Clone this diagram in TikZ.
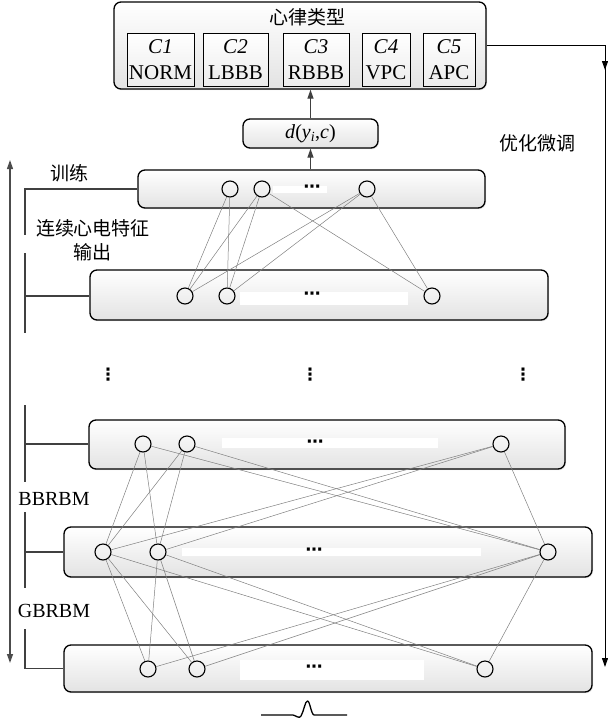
\documentclass[tikz,border=0pt]{standalone}
\usepackage{fontspec}
\setmainfont{Liberation Serif}
\newfontfamily\cjk{Noto Sans CJK SC}
\newfontfamily\sym{DejaVu Sans}
\usetikzlibrary{arrows.meta}
\usetikzlibrary{shadows}

\begin{document}
\begin{tikzpicture}[x=1pt, y=-1pt, font=\fontsize{20}{24}\selectfont,
    layer/.style={draw, line width=1.3pt, rounded corners=7pt, top color=white, bottom color=gray!22,
                  drop shadow={opacity=0.2, shadow xshift=1pt, shadow yshift=-1.2pt}, inner sep=0pt},
    cls/.style={draw, line width=0.8pt, top color=white, bottom color=gray!15, inner sep=0pt,
                minimum height=53pt, align=center, font=\fontsize{21}{26}\selectfont},
    unit/.style={draw, circle, line width=1.1pt, minimum size=16pt, inner sep=0pt},
    band/.style={fill=white, inner sep=0pt},
    dots/.style={inner sep=0pt, font=\sym\bfseries\fontsize{17}{17}\selectfont},
    link/.style={gray, line width=0.5pt},
    brack/.style={draw=black!75, line width=1.5pt},
    arr/.style={draw=black!75, line width=1.2pt, -{Triangle[length=9pt,width=6pt]}},
    cn/.style={font=\cjk\fontsize{19}{24}\selectfont}]
    \useasboundingbox (0,0) rectangle (608,724);

    % output: heartbeat classes
    \node[layer, minimum width=372pt, minimum height=87pt] (top) at (300,45.5) {};
    \node[cn] (ttl) at (307,17) {心律类型};
    \node[cls, minimum width=67pt] (norm) at (160.5,59.5) {\textit{C1}\\NORM};
    \node[cls, minimum width=65pt] (lbbb) at (235.5,59.5) {\textit{C2}\\LBBB};
    \node[cls, minimum width=66pt] (rbbb) at (316,59.5) {\textit{C3}\\RBBB};
    \node[cls, minimum width=48pt] (vpc) at (386,59.5) {\textit{C4}\\VPC};
    \node[cls, minimum width=52pt] (apc) at (449,59.5) {\textit{C5}\\APC};

    \node[layer, minimum width=135pt, minimum height=29pt] (dist) at (310.5,133.5)
        {\textit{d}(\textit{y}\textsubscript{\textit{i}},\textit{c})};

    % stacked layers
    \node[layer, minimum width=347pt, minimum height=38pt] (lay1) at (311.5,189) {};
    \node[layer, minimum width=458pt, minimum height=50pt] (lay2) at (319,295) {};
    \node[layer, minimum width=476pt, minimum height=49pt] (lay3) at (327,444.5) {};
    \node[layer, minimum width=528pt, minimum height=50pt] (lay4) at (328,552) {};
    \node[layer, minimum width=528pt, minimum height=47pt] (lay5) at (328,668.5) {};

    \node[band, minimum width=54pt, minimum height=7pt] (bd1) at (300,189.5) {};
    \node[band, minimum width=168pt, minimum height=13pt] (bd2) at (324,298.5) {};
    \node[band, minimum width=216pt, minimum height=10pt] (bd3) at (330,443) {};
    \node[band, minimum width=299pt, minimum height=8pt] (bd4) at (331.5,552) {};
    \node[band, minimum width=184pt, minimum height=20pt] (bd5) at (332,670) {};
    \node[dots] (dt1) at (312,189) {⋯};
    \node[dots] (dt2) at (312,296) {⋯};
    \node[dots] (dt3) at (315,444) {⋯};
    \node[dots] (dt4) at (314,552) {⋯};
    \node[dots] (dt5) at (314,669) {⋯};

    \node[dots] (vd1) at (108,375) {⋮};
    \node[dots] (vd2) at (310,375) {⋮};
    \node[dots] (vd3) at (523,375) {⋮};

    % units
    \node[unit] (u1a) at (230,189) {};
    \node[unit] (u1b) at (262,189) {};
    \node[unit] (u1c) at (367,189) {};
    \node[unit] (u2a) at (185,296) {};
    \node[unit] (u2b) at (227,296) {};
    \node[unit] (u2c) at (432,296) {};
    \node[unit] (u3a) at (143,444) {};
    \node[unit] (u3b) at (187,444) {};
    \node[unit] (u3c) at (501,444) {};
    \node[unit] (u4a) at (103,552) {};
    \node[unit] (u4b) at (158,552) {};
    \node[unit] (u4c) at (548,552) {};
    \node[unit] (u5a) at (148,669) {};
    \node[unit] (u5b) at (197,669) {};
    \node[unit] (u5c) at (485,669) {};

    \foreach \p/\q in {u1a/u2a, u1a/u2b, u1b/u2a, u1b/u2b, u1b/u2c, u1c/u2a, u1c/u2b, u1c/u2c}
        \draw[link] (\p) -- (\q);
    \foreach \p in {u3a,u3b,u3c}
        \foreach \q in {u4a,u4b,u4c}
            \draw[link] (\p) -- (\q);
    \foreach \p in {u4a,u4b,u4c}
        \foreach \q in {u5a,u5b,u5c}
            \draw[link] (\p) -- (\q);

    % arrows
    \draw[arr] (dist.south |- lay1.north) -- (dist.south);
    \draw[arr] (dist.north) -- (dist.north |- top.south);

    \coordinate (fr) at (605,45.5);
    \coordinate (fm) at (605,70);
    \coordinate (fe) at (605,667);
    \draw[arr, draw=black, line width=1pt] (top.east) -- (fr) -- (fe);
    \draw[arr, draw=black, line width=1pt] (fr) -- (fm);
    \node[cn] (tune) at (537,143) {优化微调};

    \coordinate (tu) at (10,160);
    \coordinate (td) at (10,663);
    \draw[draw=black!70, line width=1.2pt, {Triangle[length=9pt,width=6pt]}-{Triangle[length=9pt,width=6pt]}] (tu) -- (td);

    % brackets
    \draw[brack] (lay1.west) -- (25,189) -- (25,235);
    \draw[brack] (25,253) -- (25,333);
    \draw[brack] (25,296) -- (lay2.west |- 25,296);
    \draw[brack] (25,405) -- (25,482);
    \draw[brack] (25,444) -- (lay3.west |- 25,444);
    \draw[brack] (25,512) -- (25,588);
    \draw[brack] (25,552) -- (lay4.west);
    \draw[brack] (lay5.west) -- (25,668.5) -- (25,629);

    \node[cn] (train) at (69,173) {训练};
    \node[cn, align=center] (feat) at (93,240) {连续心电特征\\输出};
    \node (bb) at (54,499) {BBRBM};
    \node (gb) at (54,611) {GBRBM};

    % input beat
    \draw[line width=1.3pt, line join=round] (261,715) -- (293,715)
        .. controls (297,716) and (299,719) .. (301,716)
        .. controls (304,711) and (305,701) .. (307.5,701)
        .. controls (310,701) and (311,714) .. (314,715) -- (347,715);
\end{tikzpicture}
\end{document}
